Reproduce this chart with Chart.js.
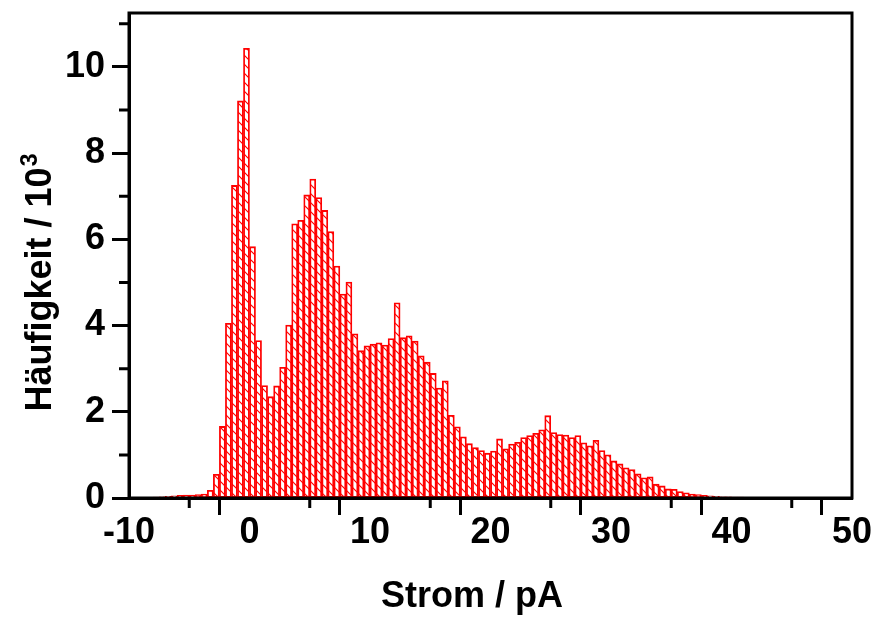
<!DOCTYPE html>
<html>
<head>
<meta charset="utf-8">
<script src="https://cdn.jsdelivr.net/npm/chart.js@4/dist/chart.umd.min.js"></script>
<style>
html,body{margin:0;padding:0;background:#fff;}
canvas{display:block;}
</style>
</head>
<body>
<canvas id="c" width="873" height="617"></canvas>
<script>
// Bin centres (pA), bin width 0.5 pA
const binCenters = [
  -7.75,-7.25,-6.75,-6.25,-5.75,-5.25,-4.75,-4.25,-3.75,-3.25,
  -2.75,-2.25,-1.75,-1.25,-0.75,-0.25,0.25,0.75,1.25,1.75,
  2.25,2.75,3.25,3.75,4.25,4.75,5.25,5.75,6.25,6.75,
  7.25,7.75,8.25,8.75,9.25,9.75,10.25,10.75,11.25,11.75,
  12.25,12.75,13.25,13.75,14.25,14.75,15.25,15.75,16.25,16.75,
  17.25,17.75,18.25,18.75,19.25,19.75,20.25,20.75,21.25,21.75,
  22.25,22.75,23.25,23.75,24.25,24.75,25.25,25.75,26.25,26.75,
  27.25,27.75,28.25,28.75,29.25,29.75,30.25,30.75,31.25,31.75,
  32.25,32.75,33.25,33.75,34.25,34.75,35.25,35.75,36.25,36.75,
  37.25,37.75,38.25,38.75,39.25,39.75,40.25,40.75
];
// Frequency in units of 10^3
const frequency = [
  0.02,0.03,0.04,0.05,0.06,0.07,0.07,0.08,0.09,0.18,
  0.55,1.66,4.05,7.25,9.21,10.43,5.83,3.65,2.61,2.35,
  2.60,3.03,4.01,6.36,6.44,7.03,7.40,6.97,6.67,6.18,
  5.38,4.73,5.01,3.81,3.42,3.53,3.57,3.60,3.55,3.70,
  4.53,3.72,3.76,3.64,3.30,3.15,2.89,2.55,2.72,1.92,
  1.65,1.42,1.26,1.17,1.10,1.04,1.09,1.37,1.14,1.25,
  1.29,1.40,1.45,1.50,1.58,1.91,1.52,1.47,1.46,1.40,
  1.45,1.28,1.21,1.34,1.10,1.00,0.86,0.79,0.70,0.66,
  0.56,0.47,0.49,0.32,0.28,0.21,0.20,0.15,0.12,0.09,
  0.08,0.06,0.05,0.04,0.03,0.03,0.02,0.02
];
const xMajorTicks = [-10, 0, 10, 20, 30, 40, 50];
const yMajorTicks = [0, 2, 4, 6, 8, 10];
const xTitle = 'Strom / pA';
const yTitleMain = 'Häufigkeit / 10';
const yTitleSup = '3';

// hatch pattern
function makeHatch() {
  const s = 9;
  const p = document.createElement('canvas');
  p.width = s; p.height = s;
  const g = p.getContext('2d');
  g.fillStyle = '#ffffff';
  g.fillRect(0, 0, s, s);
  g.strokeStyle = '#ff0000';
  g.lineWidth = 1.2;
  g.beginPath();
  g.moveTo(-1, -1); g.lineTo(s + 1, s + 1);
  g.moveTo(-1, s - 1); g.lineTo(1, s + 1);
  g.moveTo(s - 1, -1); g.lineTo(s + 1, 1);
  g.stroke();
  return document.getElementById('c').getContext('2d').createPattern(p, 'repeat');
}

const FONT = "'Liberation Sans', Arial, sans-serif";

const decorations = {
  id: 'decorations',
  afterDraw(chart) {
    const ctx = chart.ctx;
    const a = chart.chartArea;
    ctx.save();
    ctx.strokeStyle = '#000';
    ctx.lineWidth = 3;
    ctx.lineCap = 'butt';
    const xs = chart.scales.x, ys = chart.scales.y;
    ctx.beginPath();
    xs.ticks.forEach(t => {
      if (!xMajorTicks.includes(t.value)) {
        const px = xs.getPixelForValue(t.value);
        ctx.moveTo(px, a.bottom); ctx.lineTo(px, a.bottom + 10);
      }
    });
    ys.ticks.forEach(t => {
      if (!yMajorTicks.includes(t.value)) {
        const py = ys.getPixelForValue(t.value);
        ctx.moveTo(a.left, py); ctx.lineTo(a.left - 10, py);
      }
    });
    ctx.stroke();
    ctx.strokeRect(a.left, a.top, a.right - a.left, a.bottom - a.top);

    // axis titles
    ctx.fillStyle = '#000';
    ctx.font = 'bold 36px ' + FONT;
    ctx.textAlign = 'center';
    ctx.textBaseline = 'middle';
    ctx.fillText(xTitle, 472, 597);

    // y title with superscript
    ctx.save();
    ctx.translate(38, 283);
    ctx.rotate(-Math.PI / 2);
    ctx.textAlign = 'left';
    ctx.textBaseline = 'alphabetic';
    ctx.font = 'bold 36px ' + FONT;
    const w1 = ctx.measureText(yTitleMain).width;
    ctx.font = 'bold 23px ' + FONT;
    const w2 = ctx.measureText(yTitleSup).width;
    const start = -(w1 + w2) / 2;
    ctx.font = 'bold 36px ' + FONT;
    ctx.fillText(yTitleMain, start, 13);
    ctx.font = 'bold 23px ' + FONT;
    ctx.fillText(yTitleSup, start + w1 + 1, -1);
    ctx.restore();

    ctx.restore();
  }
};

new Chart(document.getElementById('c'), {
  type: 'bar',
  data: {
    datasets: [{
      data: binCenters.map((x, i) => ({x: x, y: frequency[i]})),
      backgroundColor: makeHatch(),
      borderColor: '#ff0000',
      borderWidth: 1.8,
      barPercentage: 1.0,
      categoryPercentage: 1.0,
      borderSkipped: false
    }]
  },
  options: {
    responsive: false,
    devicePixelRatio: 1,
    animation: false,
    events: [],
    layout: { padding: { left: 0, top: 13, right: 21, bottom: 0 } },
    plugins: { legend: { display: false }, tooltip: { enabled: false } },
    scales: {
      x: {
        type: 'linear',
        min: -10, max: 50,
        offset: false,
        afterFit(s) { s.height = 119; s.paddingLeft = 0; s.paddingRight = 0; },
        ticks: {
          stepSize: 5,
          autoSkip: false,
          maxRotation: 0,
          padding: -4,
          color: '#000',
          font: { family: FONT, size: 36, weight: 'bold' },
          callback: v => xMajorTicks.includes(v) ? String(v) : ''
        },
        grid: {
          drawOnChartArea: false,
          drawTicks: true,
          tickLength: 17,
          tickWidth: 3,
          tickColor: c => (c.tick && xMajorTicks.includes(c.tick.value)) ? '#000' : 'rgba(0,0,0,0)'
        },
        border: { display: true, color: '#000', width: 3 },
        title: { display: false }
      },
      y: {
        type: 'linear',
        min: 0, max: 11.25,
        afterFit(s) { s.width = 129; s.paddingTop = 0; s.paddingBottom = 0; },
        afterBuildTicks(s) {
          const t = [];
          for (let v = 0; v <= 11; v++) t.push({ value: v });
          s.ticks = t;
        },
        ticks: {
          autoSkip: false,
          padding: 7,
          color: '#000',
          font: { family: FONT, size: 36, weight: 'bold' },
          callback: v => yMajorTicks.includes(v) ? String(v) : ''
        },
        grid: {
          drawOnChartArea: false,
          drawTicks: true,
          tickLength: 17,
          tickWidth: 3,
          tickColor: c => (c.tick && yMajorTicks.includes(c.tick.value)) ? '#000' : 'rgba(0,0,0,0)'
        },
        border: { display: true, color: '#000', width: 3 },
        title: { display: false }
      }
    }
  },
  plugins: [decorations]
});
</script>
</body>
</html>
